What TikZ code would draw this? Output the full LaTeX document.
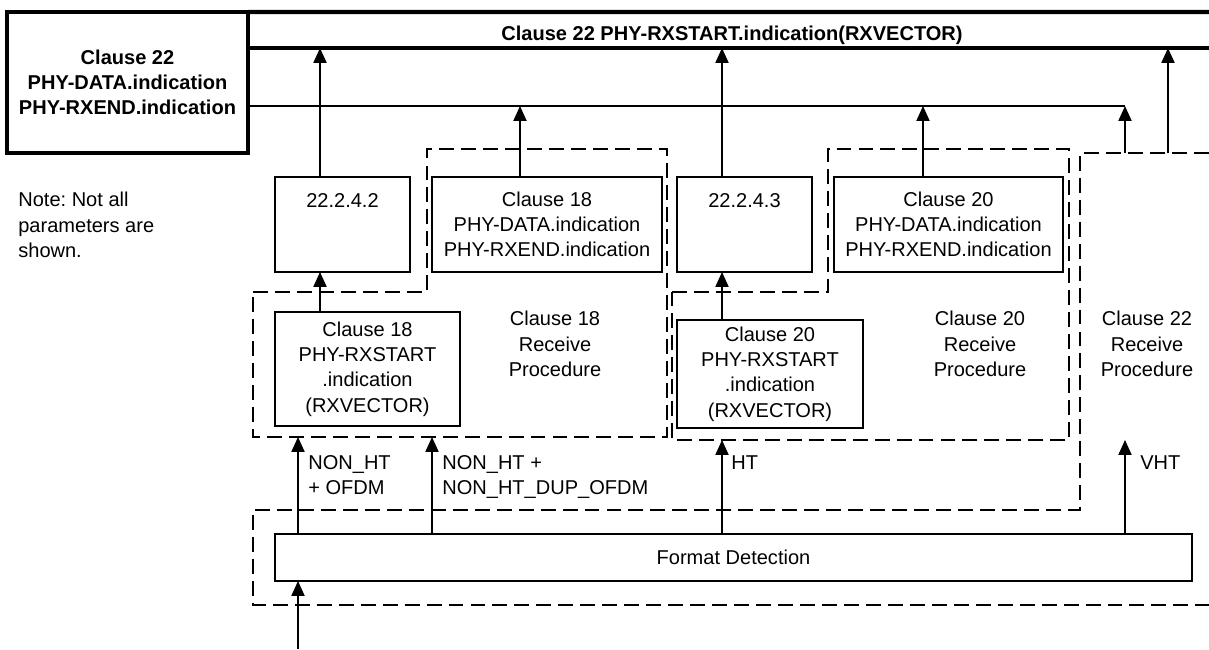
\documentclass[tikz,border=0pt]{standalone}
\usepackage{fontspec}
\setmainfont{Liberation Sans}
\usetikzlibrary{arrows.meta,positioning}
\frenchspacing

\begin{document}
\begin{tikzpicture}[font=\fontsize{11.4}{14.4}\selectfont,
  box/.style={draw,line width=0.75pt,inner sep=0pt,outer sep=0pt,align=center},
  heavybox/.style={draw,line width=2.4pt,inner sep=0pt,outer sep=0pt,align=center,font=\fontsize{11.4}{14.4}\selectfont\bfseries},
  heavy/.style={line width=2.4pt},
  grp/.style={line width=1.5pt,dash pattern=on 8.5pt off 4pt},
  arr/.style={line width=0.75pt,-{Triangle[length=8.5pt,width=7.5pt]}},
  lbl/.style={inner sep=0pt,align=left}]
\useasboundingbox (0,0) rectangle (24.18,12.98);
% columns of the arrows
\coordinate (xin) at (5.96,0);
\coordinate (x18) at (6.40,0);
\coordinate (xdup) at (8.64,0);
\coordinate (xd18) at (10.40,0);
\coordinate (xht) at (14.44,0);
\coordinate (xd20) at (18.46,0);
\coordinate (xvht) at (22.50,0);
\coordinate (x22) at (23.36,0);
\coordinate (r18b) at (0,4.24);
\coordinate (r20b) at (0,4.18);
\coordinate (r22t) at (0,9.92);
% top
\node[heavybox,minimum width=4.82cm,minimum height=2.82cm] (c22data) at (2.55,11.33) {Clause 22\\PHY-DATA.indication\\PHY-RXEND.indication};
\node[font=\fontsize{11.4}{14.4}\selectfont\bfseries] (rxstart) at (14.64,12.28) {Clause 22 PHY-RXSTART.indication(RXVECTOR)};
\coordinate (bartop) at (24.18,12.74);
\coordinate (barbot) at (24.18,12.02);
\coordinate (bus) at (22.50,10.86);
\draw[heavy] (c22data.north east) -- (bartop);
\draw[heavy] (barbot -| c22data.east) -- (barbot);
\draw[line width=0.75pt] (bus -| c22data.east) -- (bus);
\node[lbl,anchor=west] (note) at (0.36,8.48) {Note: Not all\\parameters are\\shown.};
% boxes
\node[box,minimum width=2.70cm,minimum height=1.90cm] (s2242) at (6.85,8.49) {};
\node[lbl,below=0.32cm of s2242.north] {22.2.4.2};
\node[box,minimum width=4.60cm,minimum height=1.90cm] (data18) at (10.94,8.49) {Clause 18\\PHY-DATA.indication\\PHY-RXEND.indication};
\node[box,minimum width=2.70cm,minimum height=1.90cm] (s2243) at (14.89,8.49) {};
\node[lbl,below=0.32cm of s2243.north] {22.2.4.3};
\node[box,minimum width=4.58cm,minimum height=1.90cm] (data20) at (18.97,8.49) {Clause 20\\PHY-DATA.indication\\PHY-RXEND.indication};
\node[box,minimum width=3.70cm,minimum height=2.28cm] (start18) at (7.35,5.60) {Clause 18\\PHY-RXSTART\\.indication\\(RXVECTOR)};
\node[box,minimum width=3.72cm,minimum height=2.16cm] (start20) at (15.40,5.50) {Clause 20\\PHY-RXSTART\\.indication\\(RXVECTOR)};
\node[box,minimum width=18.34cm,minimum height=0.94cm] (fmt) at (14.67,1.83) {Format Detection};
\node[align=center] (proc18) at (11.10,6.10) {Clause 18\\Receive\\Procedure};
\node[align=center] (proc20) at (19.60,6.10) {Clause 20\\Receive\\Procedure};
\node[align=center] (proc22) at (22.94,6.10) {Clause 22\\Receive\\Procedure};
% receive procedures
\draw[grp] (5.06,7.14) -- (8.54,7.14) -- (8.54,10.00) -- (13.34,10.00) -- (13.34,4.24) -- (5.06,4.24) -- cycle;
\draw[grp] (13.44,7.14) -- (16.56,7.14) -- (16.56,10.00) -- (21.38,10.00) -- (21.38,4.18) -- (13.44,4.18) -- cycle;
\draw[grp] (24.18,9.92) -- (21.60,9.92) -- (21.60,2.78) -- (5.06,2.78) -- (5.06,0.88) -- (24.18,0.88);
% arrows
\draw[arr] (xin) -- (fmt.south -| xin);
\draw[arr] (fmt.north -| xin) -- (r18b -| xin);
\node[lbl,anchor=north west] at (6.16,3.88) {NON\_HT\\+ OFDM};
\draw[arr] (fmt.north -| xdup) -- (r18b -| xdup);
\node[lbl,anchor=north west] at (8.84,3.88) {NON\_HT +\\NON\_HT\_DUP\_OFDM};
\draw[arr] (fmt.north -| xht) -- (r20b -| xht);
\node[lbl,anchor=north west] at (14.62,3.88) {HT};
\draw[arr] (fmt.north -| xvht) -- (r20b -| xvht);
\node[lbl,anchor=north west] at (22.80,3.88) {VHT};
\draw[arr] (start18.north -| x18) -- (s2242.south -| x18);
\draw[arr] (s2242.north -| x18) -- (barbot -| x18);
\draw[arr] (start20.north -| xht) -- (s2243.south -| xht);
\draw[arr] (s2243.north -| xht) -- (barbot -| xht);
\draw[arr] (data18.north -| xd18) -- (bus -| xd18);
\draw[arr] (data20.north -| xd20) -- (bus -| xd20);
\draw[arr] (r22t -| xvht) -- (bus);
\draw[arr] (r22t -| x22) -- (barbot -| x22);
\end{tikzpicture}
\end{document}
